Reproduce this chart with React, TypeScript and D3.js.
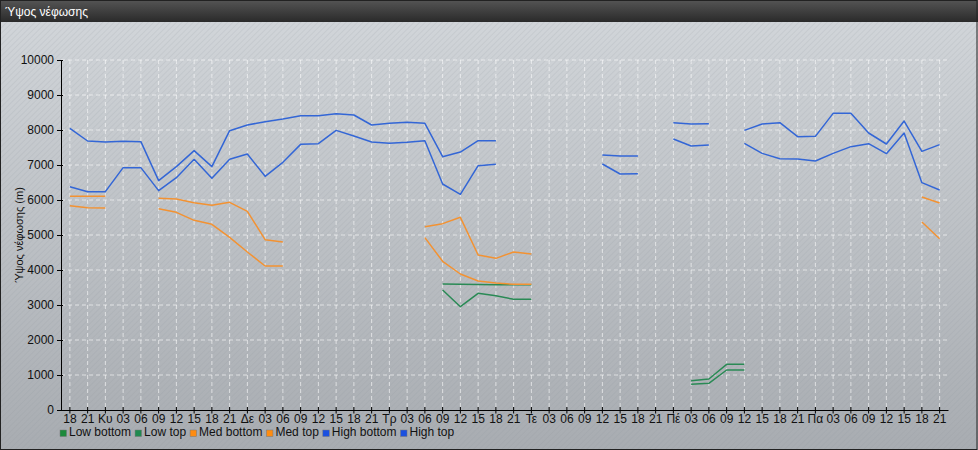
import React, { useEffect, useRef } from "react";
import * as d3 from "d3";

const xLabels: string[] = [
  "18", "21",
  "Κυ", "03", "06", "09", "12", "15", "18", "21",
  "Δε", "03", "06", "09", "12", "15", "18", "21",
  "Τρ", "03", "06", "09", "12", "15", "18", "21",
  "Τε", "03", "06", "09", "12", "15", "18", "21",
  "Πέ", "03", "06", "09", "12", "15", "18", "21",
  "Πα", "03", "06", "09", "12", "15", "18", "21",
];

const N = null;
const lowBottom: (number | null)[] = [
  N, N, N, N, N, N, N, N, N, N, N, N, N, N, N, N, N, N, N, N, N,
  3429, 2952, 3333, 3267, 3162, 3162,
  N, N, N, N, N, N, N, N,
  733, 762, 1143, 1143,
  N, N, N, N, N, N, N, N, N, N, N,
];
const lowTop: (number | null)[] = [
  N, N, N, N, N, N, N, N, N, N, N, N, N, N, N, N, N, N, N, N, N,
  3600, 3590, 3585, 3580, 3580, 3580,
  N, N, N, N, N, N, N, N,
  838, 886, 1305, 1305,
  N, N, N, N, N, N, N, N, N, N, N,
];
const medBottom: (number | null)[] = [
  5838, 5781, 5771, N, N, 5752, 5648, 5419, 5305, 4933, 4514, 4114, 4114,
  N, N, N, N, N, N, N,
  4924, 4248, 3886, 3686, 3629, 3590, 3590,
  N, N, N, N, N, N, N, N, N, N, N, N, N, N, N, N, N, N, N, N, N,
  5371, 4895,
];
const medTop: (number | null)[] = [
  6105, 6105, 6105, N, N, 6048, 6029, 5924, 5848, 5933, 5676, 4867, 4800,
  N, N, N, N, N, N, N,
  5238, 5324, 5505, 4429, 4333, 4514, 4457,
  N, N, N, N, N, N, N, N, N, N, N, N, N, N, N, N, N, N, N, N, N,
  6086, 5914,
];
const highBottom: (number | null)[] = [
  6381, 6238, 6238, 6924, 6924, 6267, 6638, 7162, 6619, 7162, 7314, 6676, 7076,
  7590, 7610, 7990, 7829, 7657, 7619, 7648, 7695, 6457, 6162, 6981, 7019,
  N, N, N, N, N,
  7029, 6743, 6752, N,
  7743, 7543, 7571, N,
  7619, 7333, 7181, 7171, 7114, 7333, 7524, 7610, 7324, 7914, 6495, 6286,
];
const highTop: (number | null)[] = [
  8048, 7686, 7657, 7676, 7667, 6552, 6952, 7410, 6952, 7981, 8143, 8238, 8314,
  8405, 8410, 8467, 8429, 8143, 8190, 8219, 8190, 7238, 7371, 7695, 7695,
  N, N, N, N, N,
  7286, 7257, 7257, N,
  8210, 8171, 8181, N,
  7990, 8171, 8210, 7810, 7819, 8476, 8476, 7914, 7600, 8257, 7390, 7581,
];

const seriesNames = ["Low bottom", "Low top", "Med bottom", "Med top", "High bottom", "High top"];
const seriesData = [lowBottom, lowTop, medBottom, medTop, highBottom, highTop];
const lineColors = ["#2a8a55", "#2a8a55", "#f39232", "#f39232", "#3366d6", "#3366d6"];
const legendColors = ["#1d8a3c", "#1f8a50", "#ff8c10", "#ff8c10", "#1a50e0", "#1a50e0"];
const yTicks = [0, 1000, 2000, 3000, 4000, 5000, 6000, 7000, 8000, 9000, 10000];

const W = 978;
const H = 450;
const FONT = "'Liberation Sans', Arial, sans-serif";

export default function App() {
  const ref = useRef<SVGSVGElement>(null);

  useEffect(() => {
    const svg = d3.select(ref.current);
    svg.selectAll("*").remove();

    const defs = svg.append("defs");
    const bg = defs.append("linearGradient").attr("id", "bgGrad").attr("x1", 0).attr("y1", 0).attr("x2", 0).attr("y2", 1);
    bg.append("stop").attr("offset", "0%").attr("stop-color", "#d3d7db");
    bg.append("stop").attr("offset", "100%").attr("stop-color", "#a8acb1");
    const tb = defs.append("linearGradient").attr("id", "titleGrad").attr("x1", 0).attr("y1", 0).attr("x2", 0).attr("y2", 1);
    tb.append("stop").attr("offset", "0%").attr("stop-color", "#555555");
    tb.append("stop").attr("offset", "100%").attr("stop-color", "#2a2a2a");
    const pat = defs.append("pattern").attr("id", "hatch").attr("width", 4).attr("height", 4)
      .attr("patternUnits", "userSpaceOnUse").attr("patternTransform", "rotate(45)");
    pat.append("line").attr("x1", 0).attr("y1", 0).attr("x2", 0).attr("y2", 4)
      .attr("stroke", "#8a9098").attr("stroke-width", 1.2).attr("stroke-opacity", 0.25);

    // background
    svg.append("rect").attr("x", 0).attr("y", 0).attr("width", W).attr("height", H).attr("fill", "url(#bgGrad)");
    svg.append("rect").attr("x", 0).attr("y", 0).attr("width", W).attr("height", H).attr("fill", "url(#hatch)");

    // title bar
    svg.append("rect").attr("x", 0).attr("y", 0).attr("width", W).attr("height", 22).attr("fill", "url(#titleGrad)");
    svg.append("text").attr("x", 5).attr("y", 16).attr("fill", "#ffffff")
      .attr("font-family", FONT).attr("font-size", 12).text("Ύψος νέφωσης");

    // border
    svg.append("rect").attr("x", 0.5).attr("y", 0.5).attr("width", W - 1.5).attr("height", H - 1)
      .attr("fill", "none").attr("stroke", "#222").attr("stroke-width", 1);

    const left = 61, right = 948.5, top = 60, bottom = 410;
    const x = d3.scaleBand<number>().domain(d3.range(xLabels.length)).range([left, right]);
    const xc = (i: number) => (x(i) as number) + x.bandwidth() / 2;
    const y = d3.scaleLinear().domain([0, 10000]).range([bottom, top]);

    // grid
    const grid = svg.append("g");
    yTicks.filter((t) => t > 0).forEach((t) => {
      grid.append("line").attr("x1", left).attr("x2", right).attr("y1", y(t)).attr("y2", y(t))
        .attr("stroke", "#ffffff").attr("stroke-opacity", 0.6).attr("stroke-dasharray", "4,3");
    });
    xLabels.forEach((_, i) => {
      grid.append("line").attr("x1", xc(i)).attr("x2", xc(i)).attr("y1", top).attr("y2", bottom)
        .attr("stroke", "#ffffff").attr("stroke-opacity", 0.6).attr("stroke-dasharray", "4,3");
    });

    // axes
    const yAxis = d3.axisLeft(y).tickValues(yTicks).tickSize(4).tickPadding(3).tickFormat((d) => String(d));
    const gy = svg.append("g").attr("transform", `translate(${left},0)`).call(yAxis);
    gy.select(".domain").attr("stroke", "#000").attr("d", `M0.5,${top}V${bottom}`);
    gy.selectAll(".tick line").attr("stroke", "#000").attr("x1", 2);
    gy.selectAll("text").attr("font-family", FONT).attr("font-size", 12).attr("fill", "#111");

    const xAxis = d3.axisBottom(x).tickSize(3.5).tickPadding(0).tickFormat((d) => xLabels[d as number]);
    const gx = svg.append("g").attr("transform", `translate(0,${bottom})`).call(xAxis);
    gx.select(".domain").attr("stroke", "#000").attr("d", `M${left},0.5H${right}`);
    gx.selectAll(".tick line").attr("stroke", "#000").attr("y1", -3);
    gx.selectAll("text").attr("font-family", FONT).attr("font-size", 12).attr("fill", "#111")
      .attr("dy", null).attr("y", 12.5);

    // y title
    svg.append("text").attr("transform", `translate(23,${(top + bottom) / 2}) rotate(-90)`)
      .attr("text-anchor", "middle").attr("font-family", FONT).attr("font-size", 11).attr("fill", "#111")
      .text("Ύψος νέφωσης (m)");

    // lines
    const line = d3.line<number | null>()
      .defined((d) => d !== null)
      .x((_, i) => xc(i))
      .y((d) => y(d as number));
    seriesData.forEach((data, k) => {
      svg.append("path").attr("d", line(data) as string).attr("fill", "none")
        .attr("stroke", lineColors[k]).attr("stroke-width", 1.5).attr("stroke-linejoin", "round");
    });

    // legend
    const lg = svg.append("g");
    let lx = 60;
    seriesNames.forEach((name, k) => {
      lg.append("rect").attr("x", lx).attr("y", 430).attr("width", 6.5).attr("height", 6.5)
        .attr("fill", legendColors[k]).attr("stroke", "#777").attr("stroke-width", 0.5);
      const t = lg.append("text").attr("x", lx + 9).attr("y", 436).attr("font-family", FONT)
        .attr("font-size", 12).attr("fill", "#111").text(name);
      const w = (t.node() as SVGTextElement).getComputedTextLength();
      lx += 9 + w + 4;
    });
  }, []);

  return (
    <svg ref={ref} width={W} height={H}
      style={{ position: "absolute", left: 0, top: 0, display: "block" }} />
  );
}
